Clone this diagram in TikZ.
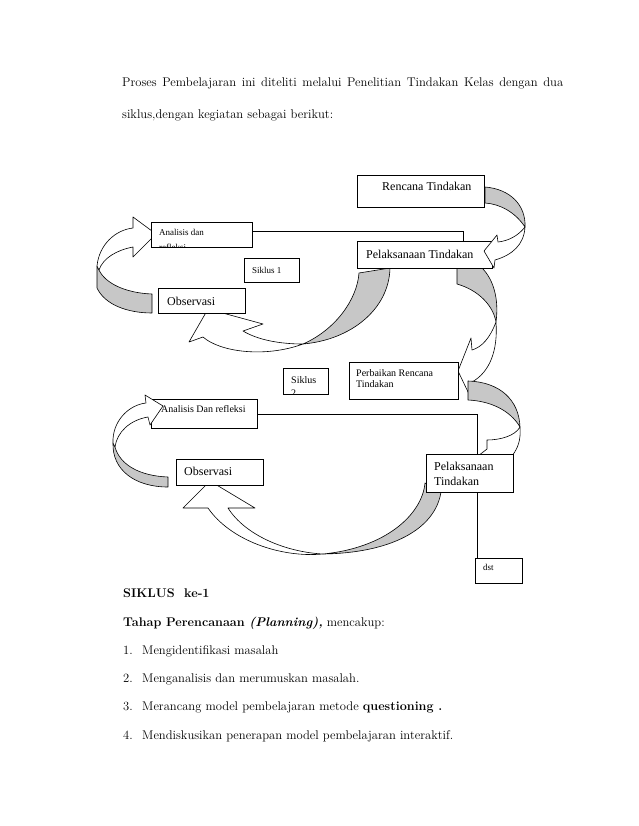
\documentclass[tikz,border=0pt]{standalone}
\usepackage{fontspec}
\newfontfamily\tnr{Liberation Serif}
\pgfdeclarelayer{bg}
\pgfsetlayers{bg,main}

\tikzset{
    box/.style={draw, fill=white, line width=0.8pt, inner sep=0pt, anchor=north west},
    lbl/.style={anchor=base west, inner sep=0pt},
    body/.style={anchor=base west, inner sep=0pt, font=\fontsize{12.6}{15}\selectfont},
    back/.style={draw, fill=black!22, line width=0.6pt, line join=round},
    front/.style={draw, fill=white, line width=0.6pt, line join=round},
    link/.style={draw, line width=0.8pt}
}

\begin{document}
\begin{tikzpicture}[x=1pt, y=-1pt]
    \useasboundingbox (0,0) rectangle (638,826);

    % 1. Paragraph above the diagram
    \node[body] (par1) at (122,87) {\makebox[441pt][s]{Proses Pembelajaran ini diteliti melalui Penelitian Tindakan Kelas dengan dua}};
    \node[body] (par2) at (122,119) {siklus,dengan kegiatan sebagai berikut:};

    % 2. Boxes of the two cycles
    \node[box, minimum width=127pt, minimum height=32pt] (rencana) at (357,175) {};
    \node[box, minimum width=101pt, minimum height=25pt] (ana1) at (151,222) {};
    \node[box, minimum width=135pt, minimum height=27pt] (pel1) at (357,241) {};
    \node[box, minimum width=55pt, minimum height=24pt] (sik1) at (244,258) {};
    \node[box, minimum width=87pt, minimum height=25pt] (obs1) at (158,288) {};
    \node[box, minimum width=109pt, minimum height=37pt] (perb) at (349,362) {};
    \node[box, minimum width=45pt, minimum height=26pt] (sik2) at (283,368) {};
    \node[box, minimum width=106pt, minimum height=29pt] (ana2) at (151,399) {};
    \node[box, minimum width=87pt, minimum height=26pt] (obs2) at (176,459) {};
    \node[box, minimum width=87pt, minimum height=38pt] (pel2) at (426,454) {};
    \node[box, minimum width=47pt, minimum height=25pt] (dst) at (475,558) {};

    % 3. Texts in the boxes
    \node[lbl, font=\tnr\fontsize{12}{14}\selectfont] (rencana-t) at (382,191) {Rencana Tindakan};
    \begin{scope}
        \clip (ana1.north west) rectangle (ana1.south east);
        \node[lbl, font=\tnr\fontsize{9}{11}\selectfont] (ana1-t) at (159,235) {Analisis dan};
        \node[lbl, font=\tnr\fontsize{9}{11}\selectfont] (ana1-u) at (159,250.5) {refleksi};
    \end{scope}
    \node[lbl, font=\tnr\fontsize{12}{14}\selectfont] (pel1-t) at (366,258) {Pelaksanaan Tindakan};
    \node[lbl, font=\tnr\fontsize{9}{11}\selectfont] (sik1-t) at (252,273) {Siklus 1};
    \node[lbl, font=\tnr\fontsize{12}{14}\selectfont] (obs1-t) at (167,305) {Observasi};
    \node[lbl, font=\tnr\fontsize{10}{12}\selectfont] (perb-t) at (356,376) {Perbaikan Rencana};
    \node[lbl, font=\tnr\fontsize{10}{12}\selectfont] (perb-u) at (356,387) {Tindakan};
    \begin{scope}
        \clip (sik2.north west) rectangle (sik2.south east);
        \node[lbl, font=\tnr\fontsize{10}{12}\selectfont] (sik2-t) at (291,383) {Siklus};
        \node[lbl, font=\tnr\fontsize{10}{12}\selectfont] (sik2-u) at (291,396) {2};
    \end{scope}
    \node[lbl, font=\tnr\fontsize{10}{12}\selectfont] (ana2-t) at (161,412) {Analisis Dan refleksi};
    \node[lbl, font=\tnr\fontsize{12}{14}\selectfont] (obs2-t) at (184,475) {Observasi};
    \node[lbl, font=\tnr\fontsize{12}{14}\selectfont] (pel2-t) at (434,470) {Pelaksanaan};
    \node[lbl, font=\tnr\fontsize{12}{14}\selectfont] (pel2-u) at (434,485) {Tindakan};
    \node[lbl, font=\tnr\fontsize{9}{11}\selectfont] (dst-t) at (483,570) {dst};

    % 4. Lines and curved arrows behind the boxes
    \coordinate (k1) at (463,231);
    \coordinate (k2) at (477,413);
    \begin{pgfonlayer}{bg}
        \draw[link] ([yshift=3.5pt]ana1.east) -| (pel1.north -| k1);
        \draw[link] (ana2.east) -| (dst.north -| k2);

        % Rencana -> Pelaksanaan (back face)
        \draw[back] (485,187) .. controls (510,189) and (526,205) .. (525,227)
            .. controls (515,212) and (500,204) .. (485,203) -- cycle;

        % Pelaksanaan -> Perbaikan
        \draw[back] (457,268) -- (457,284) .. controls (478,290) and (493,305) .. (496,322)
            .. controls (499,300) and (494,280) .. (482,268) -- cycle;
        \draw[front] (496,322) .. controls (490,338) and (482,347) .. (472,350) -- (471,338)
            -- (458,371) -- (469,394) -- (472,382) .. controls (490,372) and (498,350) .. (496,322) -- cycle;

        % Perbaikan -> Pelaksanaan (cycle 2)
        \draw[back] (468,381) -- (468,400) .. controls (490,401) and (510,410) .. (520,427)
            .. controls (519,400) and (500,382) .. (468,381) -- cycle;
        \draw[front] (520,427) .. controls (515,436) and (500,440) .. (487,440) -- (487,449)
            -- (478,456) -- (495,470) -- (505,462) -- (512,456) .. controls (518,448) and (521,440) .. (520,427) -- cycle;

        % Pelaksanaan -> Observasi (cycle 1)
        \draw[back] (359,273) .. controls (357,300) and (335,330) .. (303,344)
            .. controls (350,340) and (389,310) .. (390,268) -- cycle;
        \draw[front] (208,309) -- (189,342) -- (203,337) .. controls (220,352) and (265,358) .. (303,344)
            .. controls (280,344) and (258,340) .. (243,331) -- (263,324) -- cycle;

        % Observasi -> Analisis (cycle 1)
        \draw[back] (97,266) -- (97,288) .. controls (105,305) and (128,313) .. (152,313) -- (152,294)
            .. controls (125,293) and (105,283) .. (99,270) -- cycle;
        \draw[front] (97,266) .. controls (99,245) and (115,230) .. (133,228) -- (133,217) -- (156,234)
            -- (133,257) -- (133,247) .. controls (117,250) and (103,258) .. (99,270) -- cycle;

        % Pelaksanaan -> Observasi (cycle 2)
        \draw[back] (425,483) .. controls (422,515) and (385,548) .. (323,554)
            .. controls (390,553) and (435,530) .. (441,492) -- cycle;
        \draw[front] (210,481) -- (183,508) -- (208,508) .. controls (230,540) and (280,558) .. (323,554)
            .. controls (285,552) and (245,535) .. (228,508) -- (255,508) -- cycle;

        % Observasi -> Analisis (cycle 2, back face)
        \draw[back] (113,443) .. controls (112,470) and (135,487) .. (168,487) -- (168,477)
            .. controls (140,476) and (120,465) .. (115,447) -- cycle;
    \end{pgfonlayer}

    % 5. Arrow heads lying over the boxes
    \draw[front] (525,227) .. controls (518,236) and (508,241) .. (498,242) -- (497,235) -- (484,251)
        -- (494,268) -- (495,260) .. controls (512,255) and (524,245) .. (525,227) -- cycle;
    \draw[front] (113,443) .. controls (112,422) and (128,405) .. (146,403) -- (145,395) -- (163,406)
        -- (150,425) -- (148,417) .. controls (130,420) and (117,432) .. (115,447) -- cycle;

    % 6. Text below the diagram
    \node[body] (siklus) at (123,597) {\textbf{SIKLUS\ \ ke-1}};
    \node[body] (tahap) at (123,626) {\textbf{Tahap Perencanaan \textit{(Planning),}} mencakup:};
    \foreach \n/\txt [count=\i] in {1/Mengidentifikasi masalah,
        2/Menganalisis dan merumuskan masalah.,
        3/Merancang model pembelajaran metode \textbf{questioning .},
        4/Mendiskusikan penerapan model pembelajaran interaktif.} {
        \node[body] (num\i) at (123,{654+28.4*(\i-1)}) {\n.};
        \node[body] (item\i) at (142,{654+28.4*(\i-1)}) {\txt};
    }
\end{tikzpicture}
\end{document}
